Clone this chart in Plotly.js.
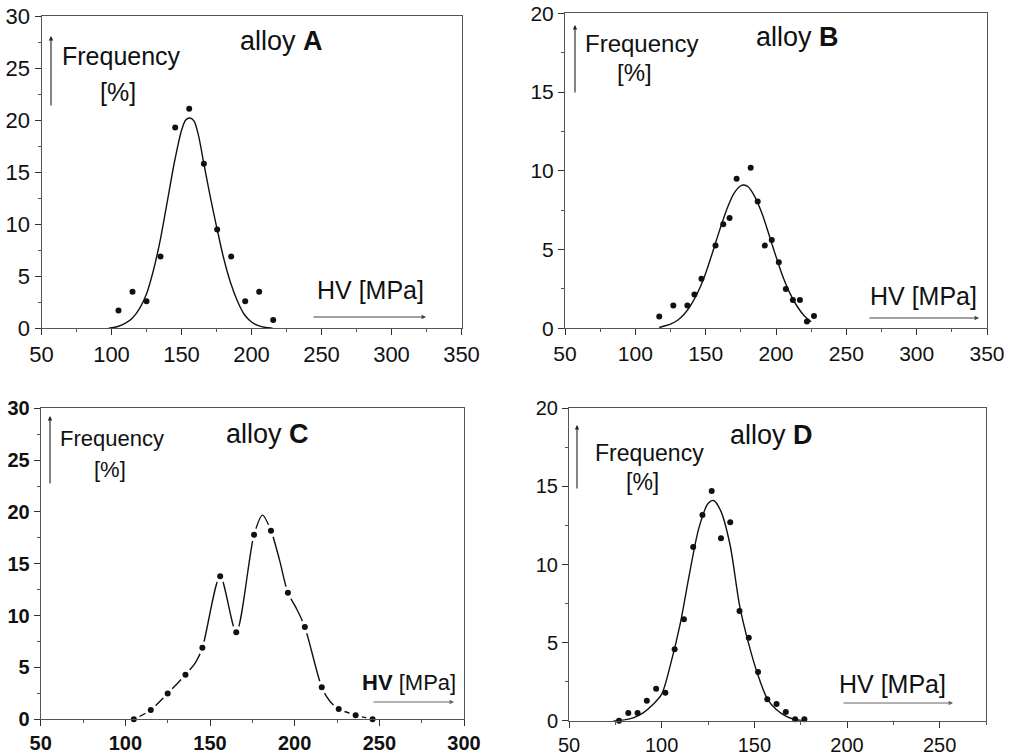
<!DOCTYPE html>
<html>
<head>
<meta charset="utf-8">
<script src="https://cdn.plot.ly/plotly-3.0.1.min.js"></script>
<style>html,body{margin:0;padding:0;background:#fff;}#chart{width:1011px;height:756px;}</style>
</head>
<body>
<div id="chart"></div>
<script>
// ---- alloy A ----
const aPointsX = [105, 115, 125, 135, 145.5, 155.5, 166, 175.5, 185.5, 195.5, 205.5, 215.5];
const aPointsY = [1.7, 3.5, 2.6, 6.9, 19.3, 21.1, 15.8, 9.5, 6.9, 2.6, 3.5, 0.8];
const aCurveX = [98, 105, 110, 115, 120, 125, 130, 135, 140, 145, 150, 153, 156, 159, 162, 166, 170, 175, 180, 185, 190, 195, 200, 205, 210, 215];
const aCurveY = [0, 0.2, 0.5, 1.0, 1.9, 3.3, 5.6, 8.6, 12.3, 16.0, 19.0, 20.0, 20.2, 19.9, 18.6, 15.8, 13.0, 9.8, 6.8, 4.4, 2.6, 1.3, 0.6, 0.25, 0.08, 0];

// ---- alloy B ----
const bPointsX = [117, 127, 137, 142, 147, 157, 162.5, 167, 172, 182, 187, 192, 197, 202, 207, 212, 217, 222, 227];
const bPointsY = [0.75, 1.45, 1.45, 2.15, 3.15, 5.25, 6.6, 7.0, 9.5, 10.2, 8.05, 5.25, 5.6, 4.2, 2.5, 1.8, 1.8, 0.43, 0.78];
const bCurveX = [117, 120, 125, 130, 135, 140, 145, 150, 155, 160, 165, 170, 175, 177, 180, 185, 190, 195, 200, 205, 210, 215, 220, 225];
const bCurveY = [0.05, 0.13, 0.27, 0.51, 0.92, 1.55, 2.4, 3.5, 4.85, 6.25, 7.55, 8.55, 9.05, 9.1, 9.0, 8.35, 7.3, 5.95, 4.55, 3.25, 2.2, 1.4, 0.8, 0.42];

// ---- alloy C ----
const cPointsX = [105, 115, 125, 135.5, 145.5, 156, 165.5, 176, 186, 196, 206, 216, 226, 236, 246];
const cPointsY = [0, 0.9, 2.5, 4.3, 6.9, 13.8, 8.4, 17.8, 18.2, 12.2, 8.9, 3.1, 1.0, 0.4, 0];
const cCurveX = [105, 115, 125, 135.5, 141.5, 145.5, 156, 165.5, 176, 181, 186, 191, 196, 201, 206, 216, 221, 226, 236, 246];
const cCurveY = [0, 0.9, 2.5, 4.3, 5.5, 6.9, 13.8, 8.4, 17.8, 19.7, 18.2, 15.4, 12.2, 10.7, 8.9, 3.1, 1.7, 1.0, 0.4, 0];

// ---- alloy D ----
const dPointsX = [77, 82, 87, 92, 97, 102, 107, 112, 117, 122, 127, 132, 137, 142, 147, 152, 157, 162, 167, 172, 177];
const dPointsY = [0, 0.5, 0.5, 1.28, 2.05, 1.79, 4.57, 6.49, 11.12, 13.17, 14.7, 11.68, 12.7, 7.02, 5.31, 3.12, 1.37, 1.07, 0.55, 0.09, 0.09];
const dCurveX = [74, 80, 85, 90, 95, 100, 105, 110, 115, 120, 125, 128, 132, 137, 142, 147, 152, 157, 162, 167, 172, 176];
const dCurveY = [0, 0.05, 0.2, 0.5, 1.0, 1.7, 3.7, 6.2, 9.4, 12.3, 13.9, 14.1, 13.4, 11.2, 7.4, 4.9, 2.9, 1.4, 0.7, 0.3, 0.08, 0];

const FONT = 'Liberation Sans, Arial, sans-serif';
const W = 1011, H = 756;
const px = v => v / W;
const py = v => 1 - v / H;

function lineTrace(x, y, xa, ya) {
  return {x, y, xaxis: xa, yaxis: ya, type: 'scatter', mode: 'lines',
    line: {color: '#111', width: 1.4, shape: 'spline', smoothing: 0.8}, cliponaxis: false, hoverinfo: 'skip'};
}
function dotTrace(x, y, xa, ya, size, color) {
  return {x, y, xaxis: xa, yaxis: ya, type: 'scatter', mode: 'markers',
    marker: {color: color || '#111', size: size || 6}, cliponaxis: false, hoverinfo: 'skip'};
}

const traces = [
  lineTrace(aCurveX, aCurveY, 'x', 'y'),
  dotTrace(aPointsX, aPointsY, 'x', 'y'),
  lineTrace(bCurveX, bCurveY, 'x2', 'y2'),
  dotTrace(bPointsX, bPointsY, 'x2', 'y2'),
  lineTrace(cCurveX, cCurveY, 'x3', 'y3'),
  dotTrace(cPointsX, cPointsY, 'x3', 'y3', 13, '#fff'),
  dotTrace(cPointsX, cPointsY, 'x3', 'y3'),
  lineTrace(dCurveX, dCurveY, 'x4', 'y4'),
  dotTrace(dPointsX, dPointsY, 'x4', 'y4')
];

function xAxis(d0, d1, range, anchor, size, bold) {
  return {domain: [px(d0), px(d1)], range, anchor, tick0: 50, dtick: 50,
    showgrid: false, zeroline: false, showline: true, mirror: true, linecolor: '#555', linewidth: 1,
    ticks: 'outside', ticklen: 6, tickcolor: '#333',
    minor: {ticks: 'outside', ticklen: 3, dtick: 25, tickcolor: '#555'},
    tickfont: {family: FONT, size, color: '#111', weight: bold ? 'bold' : 'normal'}};
}
function yAxis(top, bottom, range, anchor, size, bold) {
  return {domain: [py(bottom), py(top)], range, anchor, tick0: 0, dtick: 5,
    showgrid: false, zeroline: false, showline: true, mirror: true, linecolor: '#555', linewidth: 1,
    ticks: 'outside', ticklen: 6, tickcolor: '#333',
    minor: {ticks: 'outside', ticklen: 3, dtick: 2.5, tickcolor: '#555'},
    tickfont: {family: FONT, size, color: '#111', weight: bold ? 'bold' : 'normal'}};
}

function txt(text, x, y, size, xanchor) {
  return {text, x: px(x), y: py(y), xref: 'paper', yref: 'paper', showarrow: false,
    xanchor: xanchor || 'center', yanchor: 'middle', font: {family: FONT, size, color: '#111'}};
}
function arrow(x0, y0, x1, y1, color) {
  return {text: '', x: px(x1), y: py(y1), xref: 'paper', yref: 'paper', showarrow: true,
    ax: x0 - x1, ay: y0 - y1, arrowhead: 2, arrowsize: 0.8, arrowwidth: 1.1,
    arrowcolor: color || '#222', standoff: 0, startstandoff: 0};
}

const annotations = [
  // A
  txt('Frequency', 60, 56, 25, 'left'),
  txt('[%]', 118, 92, 25),
  txt('alloy <b>A</b>', 281, 41, 27),
  txt('HV [MPa]', 370, 290, 25),
  arrow(51, 107, 51, 36),
  arrow(312, 317, 426, 317, '#444'),
  // B
  txt('Frequency', 583, 44, 24, 'left'),
  txt('[%]', 634, 73, 24),
  txt('alloy <b>B</b>', 797, 37, 27),
  txt('HV [MPa]', 923, 296, 25),
  arrow(575, 94, 575, 25),
  arrow(868, 318, 979, 318, '#444'),
  // C
  txt('Frequency', 58, 438, 22, 'left'),
  txt('[%]', 110, 469, 22),
  txt('alloy <b>C</b>', 267, 434, 27),
  txt('<b>HV</b> <span style="font-family:\'Liberation Sans Narrow\', \'Arial Narrow\', sans-serif">[MPa]</span>', 409, 682, 22),
  arrow(50, 485, 50, 416),
  arrow(372, 702, 454, 702, '#666'),
  // D
  txt('Frequency', 593, 453, 23, 'left'),
  txt('[%]', 642, 482, 23),
  txt('alloy <b>D</b>', 771, 435, 27),
  txt('HV [MPa]', 892, 684, 25),
  arrow(577, 490, 577, 425),
  arrow(842, 703, 953, 703, '#666')
];

const layout = {
  width: W, height: H, margin: {l: 0, r: 0, t: 0, b: 0},
  paper_bgcolor: '#fff', plot_bgcolor: '#fff', showlegend: false,
  font: {family: FONT, color: '#111'},
  xaxis: xAxis(41.5, 461.5, [50, 350], 'y', 22, false),
  yaxis: yAxis(16, 328.3, [0, 30], 'x', 22, false),
  xaxis2: xAxis(565, 987, [50, 350], 'y2', 21, false),
  yaxis2: yAxis(13.3, 328.3, [0, 20], 'x2', 21, false),
  xaxis3: xAxis(40.7, 464, [50, 300], 'y3', 20, true),
  yaxis3: yAxis(408.3, 719.3, [0, 30], 'x3', 20, true),
  xaxis4: xAxis(569, 986, [50, 275], 'y4', 20, false),
  yaxis4: yAxis(408.3, 720.7, [0, 20], 'x4', 20, false),
  annotations
};

Plotly.newPlot('chart', traces, layout, {staticPlot: true, displayModeBar: false});
</script>
</body>
</html>
